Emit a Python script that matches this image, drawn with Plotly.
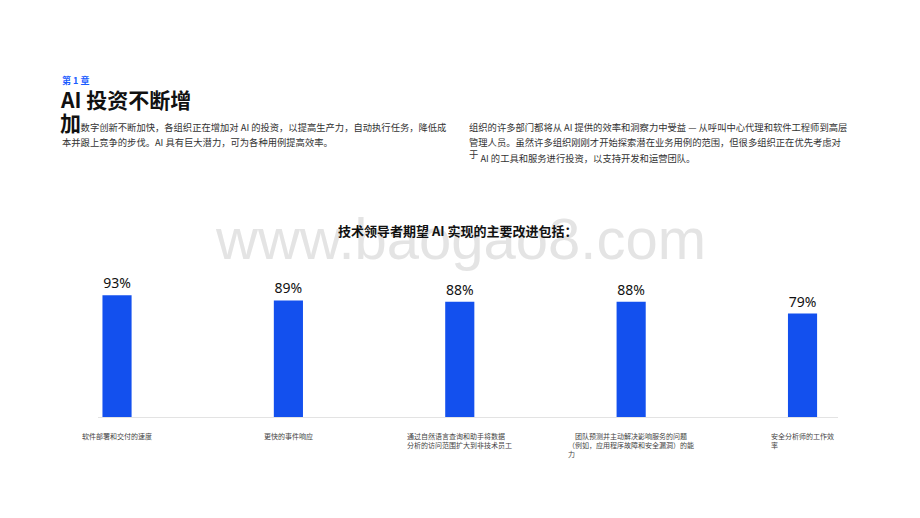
import plotly.graph_objects as go

categories = [
    "软件部署和交付的速度",
    "更快的事件响应",
    "通过自然语言查询和助手将数据<br>分析的访问范围扩大到非技术员工",
    "　团队预测并主动解决影响服务的问题<br>（例如，应用程序故障和安全漏洞）的能<br>力",
    "安全分析师的工作效<br>率",
]
values = [93, 89, 88, 88, 79]
value_labels = [f"{v}%" for v in values]

left_para = [
    "　　数字创新不断加快，各组织正在增加对 AI 的投资，以提高生产力，自动执行任务，降低成",
    "本并跟上竞争的步伐。AI 具有巨大潜力，可为各种用例提高效率。",
]
right_para = [
    "组织的许多部门都将从 AI 提供的效率和洞察力中受益 — 从呼叫中心代理和软件工程师到高层",
    "管理人员。虽然许多组织刚刚才开始探索潜在业务用例的范围，但很多组织正在优先考虑对",
    "　 AI 的工具和服务进行投资，以支持开发和运营团队。",
]

CJK = "Noto Sans CJK SC"

fig = go.Figure()
fig.add_trace(go.Bar(
    x=list(range(len(values))),
    y=values,
    text=value_labels,
    textposition="outside",
    textfont=dict(family="Noto Sans, " + CJK, size=14, color="#111111"),
    marker=dict(color="#1350ee", line=dict(width=0)),
    cliponaxis=False,
    hoverinfo="skip",
))

annotations = []
# watermark
annotations.append(dict(
    text="www.baogao8.com", xref="paper", yref="paper", x=0.49, y=1.36,
    xanchor="center", yanchor="middle", showarrow=False,
    font=dict(family="Liberation Sans, Arial", size=58, color="#e4e4e4"),
))
# chapter label
annotations.append(dict(
    text="<b>第 1 章</b>", xref="paper", yref="paper", x=-0.052, y=2.57,
    xanchor="left", yanchor="middle", showarrow=False,
    font=dict(family=CJK, size=9, color="#1a5cff"),
))
# section title
annotations.append(dict(
    text="<b>AI 投资不断增</b>", xref="paper", yref="paper", x=-0.054, y=2.43,
    xanchor="left", yanchor="middle", showarrow=False,
    font=dict(family=CJK, size=21, color="#111111"),
))
annotations.append(dict(
    text="<b>加</b>", xref="paper", yref="paper", x=-0.054, y=2.25,
    xanchor="left", yanchor="middle", showarrow=False,
    font=dict(family=CJK, size=21, color="#111111"),
))
# paragraphs (one annotation per line for line spacing)
for k, line in enumerate(left_para):
    annotations.append(dict(
        text=line, xref="paper", yref="paper", x=-0.052, y=2.215 - k * 0.115,
        xanchor="left", yanchor="middle", showarrow=False,
        font=dict(family=CJK, size=9.3, color="#333333"),
    ))
for k, line in enumerate(right_para):
    annotations.append(dict(
        text=line, xref="paper", yref="paper", x=0.499, y=2.215 - k * 0.118,
        xanchor="left", yanchor="middle", showarrow=False,
        font=dict(family=CJK, size=9.3, color="#333333"),
    ))
annotations.append(dict(
    text="于", xref="paper", yref="paper", x=0.499, y=2.215 - 2 * 0.118 + 0.03,
    xanchor="left", yanchor="middle", showarrow=False,
    font=dict(family=CJK, size=9.3, color="#333333"),
))
# chart title
annotations.append(dict(
    text="<b>技术领导者期望 AI 实现的主要改进包括：</b>",
    xref="paper", yref="paper", x=0.487, y=1.425,
    xanchor="center", yanchor="middle", showarrow=False,
    font=dict(family=CJK, size=13, color="#111111"),
))
# category labels
for i, c in enumerate(categories):
    annotations.append(dict(
        text=c, xref="x", yref="paper", x=i, y=-0.09,
        xanchor="center", yanchor="top", showarrow=False, align="left",
        font=dict(family=CJK, size=7, color="#444444"),
    ))

fig.update_layout(
    width=920, height=518,
    margin=dict(l=90, r=90, t=278, b=109, pad=0),
    paper_bgcolor="white", plot_bgcolor="white",
    bargap=0.83,
    showlegend=False,
    annotations=annotations,
    xaxis=dict(range=[-0.111, 4.207], showticklabels=False, ticks="",
               showgrid=False, zeroline=False, showline=True,
               linecolor="#e3e3e3", linewidth=1, fixedrange=True),
    yaxis=dict(range=[0, 100], visible=False, showgrid=False,
               zeroline=False, fixedrange=True),
)

fig.write_html("out.html")
